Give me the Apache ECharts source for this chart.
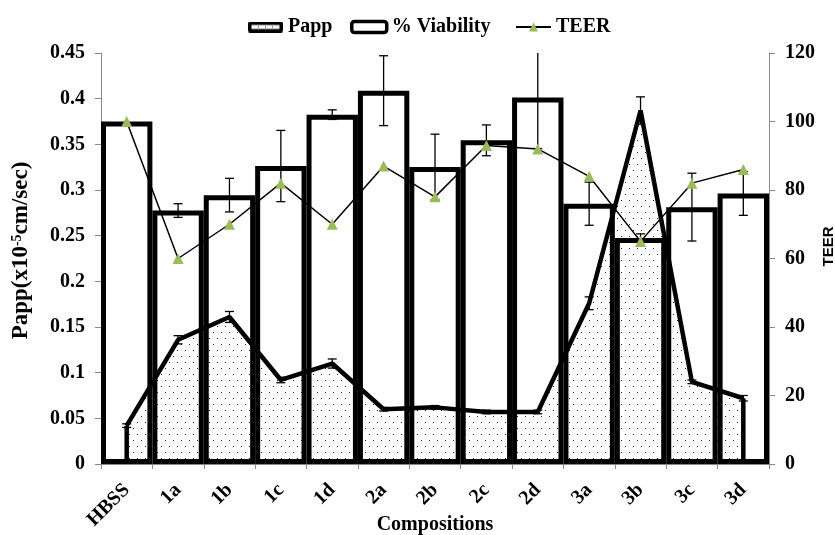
<!DOCTYPE html>
<html><head><meta charset="utf-8">
<script src="https://cdn.jsdelivr.net/npm/echarts@6/dist/echarts.min.js"></script>
<style>html,body{margin:0;padding:0;background:#fff}#c{width:835px;height:535px}</style>
</head><body><div id="c"></div>
<script>
const categories = ['HBSS','1a','1b','1c','1d','2a','2b','2c','2d','3a','3b','3c','3d'];
const pappValues = [0.042,0.136,0.161,0.092,0.110,0.060,0.062,0.057,0.057,0.176,0.387,0.090,0.072];
const pappErrors = [0.002,0.0045,0.006,0.003,0.005,0.002,0.002,0.002,0.002,0.007,0.015,0.002,0.003];
const viabilityValues = [100,74,78.5,87,102,109,86.7,94.5,107,76,66,75,79];
const viabilityErrors = [0,2,4.9,10.4,1.4,10.2,9.6,4.5,14.9,6.3,1.2,9.9,6.4];
const teerValues = [100,60,70,82,70,87,78,93,92,84,65,82,86];
const leftAxis = {min:0, max:0.45, step:0.05};
const rightAxis = {min:0, max:120, step:20};

const pc = document.createElement('canvas'); pc.width = 8; pc.height = 12;
const g = pc.getContext('2d');
g.fillStyle = '#fff'; g.fillRect(0,0,8,12);
g.fillStyle = '#222'; g.fillRect(1,2,1,1); g.fillRect(5,8,1,1);
const dotPattern = {image: pc, repeat: 'repeat'};

// legend icon for Papp (dotted box)
const ic = document.createElement('canvas'); ic.width = 35; ic.height = 11;
const h = ic.getContext('2d');
h.fillStyle = '#000';
h.beginPath(); h.roundRect(0,0,35,11,2); h.fill();
h.fillStyle = '#fff'; h.fillRect(3.5,3.5,28,4);
h.fillStyle = '#333'; [10,17,24].forEach(x=>h.fillRect(x,5,1,1));
const pappIcon = 'image://' + ic.toDataURL();

const serifBold = {fontFamily:'"Liberation Serif","Times New Roman",serif', fontWeight:'bold', color:'#000'};

function errRender(capW, lw){
  return function(params, api){
    const x = api.value(0), v = api.value(1), e = api.value(2);
    if (!e) return null;
    const top = api.coord([x, v + e]);
    const bot = api.coord([x, v - e]);
    const yTop = params.coordSys.y;
    const clipped = top[1] < yTop;
    const ty = clipped ? yTop : top[1];
    const st = {stroke:'#000', lineWidth:lw};
    const children = [
      {type:'line', shape:{x1:top[0], y1:ty, x2:bot[0], y2:bot[1]}, style:st},
      {type:'line', shape:{x1:bot[0]-capW/2, y1:bot[1], x2:bot[0]+capW/2, y2:bot[1]}, style:st}
    ];
    if (!clipped) children.push({type:'line', shape:{x1:top[0]-capW/2, y1:top[1], x2:top[0]+capW/2, y2:top[1]}, style:st});
    return {type:'group', children};
  };
}

const chart = echarts.init(document.getElementById('c'));
const legendCommon = {top:17, padding:0, itemWidth:35, itemHeight:11, itemGap:5, textStyle:Object.assign({fontSize:20}, serifBold), selectedMode:false};
chart.setOption({
  animation:false,
  backgroundColor:'#fff',
  grid:{left:101, right:66, top:53, bottom:71, containLabel:false, outerBoundsMode:'none'},
  legend:[
    Object.assign({left:248, data:[{name:'Papp', icon:pappIcon}]}, legendCommon),
    Object.assign({left:350, data:[{name:'% Viability', icon:'roundRect', itemStyle:{color:'#fff', borderColor:'#000', borderWidth:3.5}}]}, legendCommon),
    Object.assign({left:515, data:['TEER']}, legendCommon)
  ],
  xAxis:{
    type:'category', data:categories, boundaryGap:true,
    axisLine:{lineStyle:{color:'#888', width:1}},
    axisTick:{show:true, length:5, lineStyle:{color:'#888'}},
    axisLabel:Object.assign({rotate:45, fontSize:20, margin:23, interval:0}, serifBold),
    name:'Compositions', nameLocation:'middle', nameGap:51, nameMoveOverlap:false,
    nameTextStyle:Object.assign({fontSize:20}, serifBold)
  },
  yAxis:[
    {type:'value', min:leftAxis.min, max:leftAxis.max, interval:leftAxis.step, position:'left',
     axisLine:{show:true, lineStyle:{color:'#888'}},
     axisTick:{show:true, length:6, lineStyle:{color:'#888'}},
     splitLine:{show:false},
     axisLabel:Object.assign({fontSize:20, margin:16}, serifBold),
     name:'Papp(x10{sup|-5}cm/sec)', nameLocation:'middle', nameGap:68, nameRotate:90, nameMoveOverlap:false,
     nameTextStyle:Object.assign({fontSize:23, padding:[0,0,0,16], rich:{sup:Object.assign({fontSize:14, verticalAlign:'top', padding:[0,0,9,0]}, serifBold)}}, serifBold)
    },
    {type:'value', min:rightAxis.min, max:rightAxis.max, interval:rightAxis.step, position:'right',
     axisLine:{show:true, lineStyle:{color:'#888'}},
     axisTick:{show:true, length:6, lineStyle:{color:'#888'}},
     splitLine:{show:false},
     axisLabel:Object.assign({fontSize:20, margin:16}, serifBold),
     name:'TEER', nameLocation:'middle', nameGap:52, nameRotate:90, nameMoveOverlap:false,
     nameTextStyle:{fontFamily:'"Liberation Sans",Arial,sans-serif', fontWeight:'bold', fontSize:15, color:'#000', padding:[0,0,0,24]}
    }
  ],
  series:[
    {name:'Papp', type:'line', yAxisIndex:0, data:pappValues, symbol:'none', z:2,
     lineStyle:{color:'#000', width:4.5}, itemStyle:{color:'#000'},
     areaStyle:{color:dotPattern, opacity:1}},
    {name:'PappEdges', type:'custom', yAxisIndex:0, z:2,
     data:pappValues.map((v,i)=>[i,v]), encode:{x:0, y:1},
     renderItem:function(params, api){
       const i = params.dataIndex;
       if (i !== 0 && i !== pappValues.length-1) return null;
       const a = api.coord([api.value(0), api.value(1)]);
       const b = api.coord([api.value(0), 0]);
       return {type:'line', shape:{x1:a[0], y1:a[1], x2:b[0], y2:b[1]}, style:{stroke:'#000', lineWidth:4.5}};
     }},
    {name:'% Viability', type:'bar', yAxisIndex:1, data:viabilityValues, barCategoryGap:'0%', z:3,
     itemStyle:{color:'rgba(0,0,0,0)', borderColor:'#000', borderWidth:5}},
    {name:'ViabilityErr', type:'custom', yAxisIndex:1, z:4,
     data:viabilityValues.map((v,i)=>[i,v,viabilityErrors[i]]), encode:{x:0, y:1},
     renderItem:errRender(9, 1.3)},
    {name:'PappErr', type:'custom', yAxisIndex:0, z:4,
     data:pappValues.map((v,i)=>[i,v,pappErrors[i]]), encode:{x:0, y:1},
     renderItem:errRender(9, 1.3)},
    {name:'TEER', type:'line', yAxisIndex:1, data:teerValues, z:5,
     symbol:'triangle', symbolSize:11,
     itemStyle:{color:'#9bbb59'}, lineStyle:{color:'#000', width:1.5}}
  ]
});
</script></body></html>
